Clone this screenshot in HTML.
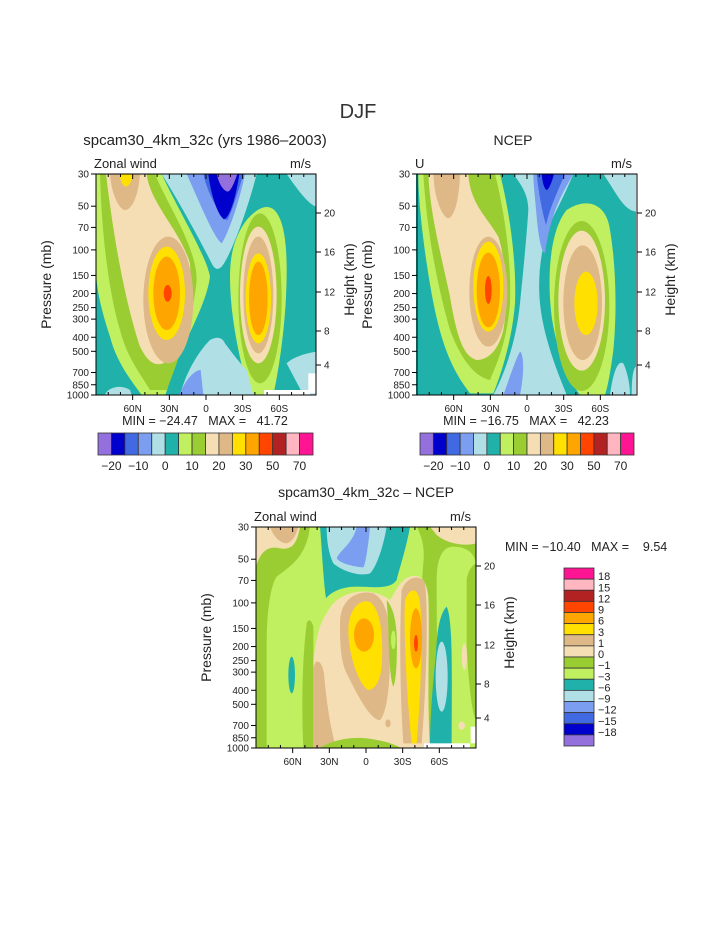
<!DOCTYPE html>
<html><head><meta charset="utf-8"><style>
html,body{margin:0;padding:0;background:#fff;}
svg{display:block;font-family:"Liberation Sans",sans-serif;}
</style></head><body>
<svg id="s" width="723" height="935" viewBox="0 0 723 935" xmlns="http://www.w3.org/2000/svg">
<defs>
<clipPath id="c1"><rect x="168" y="132" width="660" height="663"/></clipPath>
<clipPath id="c3"><rect x="168" y="140" width="660" height="663"/></clipPath>
</defs>
<text x="358" y="118" font-size="20" text-anchor="middle" fill="#333">DJF</text>

<!-- Panel 1 -->
<g transform="translate(40,130) scale(0.33333)">
<g clip-path="url(#c1)">
<rect x="168" y="132" width="660" height="663" fill="#20B2AA"/>
<path d="M168,132 L365,132 C420,250 500,380 510,440 C500,520 440,620 400,720 C385,760 380,790 375,795 L305,795 C280,760 230,700 210,620 C190,560 168,480 168,420 Z" fill="#C0F060"/>
<path d="M180,132 L345,132 C380,220 470,350 470,450 C460,560 420,680 380,780 L330,780 C300,730 260,680 240,600 C210,500 185,330 180,132 Z" fill="#9ACD32"/>
<path d="M198,132 L320,132 C330,220 420,300 450,400 C460,520 410,650 370,700 C340,710 320,690 300,650 C270,560 230,400 198,132 Z" fill="#F5DEB3"/>
<path d="M210,132 C215,200 240,240 255,240 C275,240 295,200 300,132 Z" fill="#DEB887"/>
<path d="M237,132 C243,160 252,170 260,170 C270,165 275,150 280,132 Z" fill="#FFE000"/>
<ellipse cx="385" cy="510" rx="75" ry="190" fill="#DEB887"/>
<ellipse cx="380" cy="490" rx="55" ry="140" fill="#FFE000"/>
<ellipse cx="380" cy="490" rx="40" ry="110" fill="#FFA500"/>
<ellipse cx="383" cy="490" rx="12" ry="25" fill="#FF4500"/>
<path d="M620,270 C690,190 740,230 740,420 C740,560 720,700 700,795 L630,795 C600,700 570,560 570,440 C570,360 590,310 620,270 Z" fill="#C0F060"/>
<ellipse cx="660" cy="505" rx="65" ry="255" fill="#9ACD32"/>
<ellipse cx="655" cy="495" rx="55" ry="205" fill="#F5DEB3"/>
<ellipse cx="655" cy="495" rx="45" ry="175" fill="#DEB887"/>
<ellipse cx="655" cy="505" rx="38" ry="135" fill="#FFE000"/>
<ellipse cx="655" cy="505" rx="28" ry="110" fill="#FFA500"/>
<path d="M365,132 L650,132 C620,250 570,380 545,410 C535,420 525,420 515,400 C480,330 420,220 365,132 Z" fill="#B0E0E6"/>
<path d="M740,132 L828,132 L828,230 C800,220 760,160 740,132 Z" fill="#B0E0E6"/>
<path d="M440,132 L615,132 C595,230 560,320 545,340 C520,320 480,220 440,132 Z" fill="#7B9EF0"/>
<path d="M490,132 L610,132 C590,200 570,260 560,272 C540,250 505,200 490,132 Z" fill="#4169E1"/>
<path d="M505,132 L598,132 C588,200 570,262 552,268 C532,255 512,190 505,132 Z" fill="#0000CD"/>
<path d="M530,132 L592,132 C582,160 572,185 562,185 C547,180 537,160 530,132 Z" fill="#9370DB"/>
<path d="M420,795 C440,720 480,660 510,630 C530,620 545,620 555,640 C570,660 600,700 620,720 L640,795 Z" fill="#B0E0E6"/>
<path d="M418,795 C430,760 460,720 482,720 L490,795 Z" fill="#7B9EF0"/>
<path d="M740,700 C760,680 800,670 828,665 L828,795 L790,795 Z" fill="#B0E0E6"/>
<path d="M195,795 C200,775 240,760 270,780 L275,795 Z" fill="#B0E0E6"/>
<rect x="672" y="780" width="138" height="15" fill="#fff"/>
<rect x="805" y="730" width="23" height="60" fill="#fff"/>
</g></g>

<!-- Panel 2 -->
<g transform="translate(360,130) scale(0.33333)">
<g clip-path="url(#c1)">
<rect x="168" y="132" width="660" height="663" fill="#20B2AA"/>
<path d="M175,132 L420,132 C450,250 470,400 465,520 C455,640 420,740 400,790 L330,790 C260,700 230,600 200,400 C185,300 175,200 175,132 Z" fill="#C0F060"/>
<path d="M190,132 L405,132 C435,250 455,400 450,520 C440,640 410,700 390,750 C340,740 300,680 270,600 C230,460 200,300 190,132 Z" fill="#9ACD32"/>
<path d="M205,132 L325,132 C330,220 380,260 415,320 C440,400 445,520 430,600 C410,680 370,690 350,690 C310,680 290,620 270,500 C240,360 210,250 205,132 Z" fill="#F5DEB3"/>
<path d="M220,132 C225,230 255,265 265,265 C285,260 298,200 300,132 Z" fill="#DEB887"/>
<ellipse cx="385" cy="485" rx="57" ry="165" fill="#DEB887"/>
<ellipse cx="385" cy="470" rx="45" ry="135" fill="#FFE000"/>
<ellipse cx="385" cy="480" rx="35" ry="112" fill="#FFA500"/>
<ellipse cx="385" cy="480" rx="10" ry="42" fill="#FF4500"/>
<path d="M460,132 L640,132 C620,180 600,220 580,260 C550,320 530,420 540,520 C550,620 590,720 620,795 L400,795 C440,720 470,620 480,520 C490,420 500,320 505,240 C505,190 480,160 460,132 Z" fill="#B0E0E6"/>
<path d="M730,132 L828,132 L828,245 C790,240 770,190 730,132 Z" fill="#B0E0E6"/>
<path d="M520,132 L640,132 C600,200 570,260 555,370 C545,370 535,320 530,260 C525,200 520,160 520,132 Z" fill="#7B9EF0"/>
<path d="M530,132 L615,132 C595,180 570,230 558,285 C545,240 535,180 530,132 Z" fill="#4169E1"/>
<path d="M545,132 L582,132 C575,160 565,180 560,180 C552,175 548,160 545,132 Z" fill="#0000CD"/>
<path d="M430,795 C450,740 470,680 480,665 C490,670 495,720 480,795 Z" fill="#7B9EF0"/>
<path d="M620,240 C680,200 740,220 750,300 C770,420 770,560 760,660 C750,740 740,780 735,795 L660,795 C620,740 590,660 575,560 C560,440 570,300 620,240 Z" fill="#C0F060"/>
<ellipse cx="665" cy="528" rx="83" ry="255" fill="#9ACD32"/>
<ellipse cx="665" cy="512" rx="70" ry="210" fill="#F5DEB3"/>
<ellipse cx="668" cy="518" rx="58" ry="172" fill="#DEB887"/>
<ellipse cx="678" cy="520" rx="35" ry="95" fill="#FFE000"/>
<path d="M750,795 C760,720 775,690 790,700 C800,720 810,760 810,795 Z" fill="#B0E0E6"/>
<path d="M815,795 C815,740 820,715 828,710 L828,795 Z" fill="#B0E0E6"/>
</g></g>

<!-- Panel 3 -->
<g transform="translate(200,480) scale(0.33333)">
<g clip-path="url(#c3)">
<rect x="168" y="140" width="660" height="663" fill="#C0F060"/>
<path d="M168,140 L330,140 C320,230 270,260 230,290 C210,320 200,400 200,500 L200,803 L168,803 Z" fill="#9ACD32"/>
<path d="M168,140 L300,140 C290,200 270,210 240,205 C200,195 180,220 168,260 Z" fill="#F5DEB3"/>
<path d="M210,140 C220,170 240,190 260,190 C280,185 290,160 295,140 Z" fill="#DEB887"/>
<path d="M360,140 L630,140 C620,200 600,260 590,300 C570,330 520,320 470,320 C420,320 390,340 378,355 C370,300 365,200 360,140 Z" fill="#20B2AA"/>
<path d="M380,140 L560,140 C550,200 530,260 510,280 C480,290 430,275 400,250 C385,220 380,180 380,140 Z" fill="#B0E0E6"/>
<path d="M470,140 L510,140 C505,200 495,260 490,262 C460,260 420,250 410,235 C420,210 460,190 470,140 Z" fill="#7B9EF0"/>
<path d="M650,140 L828,140 L828,803 L670,803 C660,600 660,350 670,250 C675,200 665,170 650,140 Z" fill="#9ACD32"/>
<path d="M330,803 C330,600 340,450 380,400 C400,360 430,340 480,335 C520,332 550,345 570,360 C590,330 600,300 630,290 C660,280 680,300 685,350 C690,450 680,650 690,803 Z" fill="#F5DEB3"/>
<path d="M710,300 C710,230 730,200 760,200 C800,200 828,220 828,260 L828,803 L720,803 C712,650 710,450 710,300 Z" fill="#C0F060"/>
<path d="M800,300 C805,260 828,250 828,250 L828,720 C815,700 805,600 800,500 Z" fill="#9ACD32"/>
<path d="M690,803 C690,700 700,600 708,520 C712,430 725,395 740,380 C760,420 755,600 755,803 Z" fill="#20B2AA"/>
<ellipse cx="725" cy="590" rx="18" ry="105" fill="#B0E0E6"/>
<path d="M690,140 L828,140 L828,190 C790,200 740,190 710,165 Z" fill="#F5DEB3"/>
<ellipse cx="793" cy="530" rx="8" ry="40" fill="#F5DEB3"/>
<ellipse cx="785" cy="737" rx="10" ry="12" fill="#F5DEB3"/>
<path d="M310,803 C305,700 305,550 320,430 C325,415 335,420 340,440 L340,803 Z" fill="#9ACD32"/>
<path d="M340,803 L340,570 C345,530 365,540 372,580 C382,700 400,780 410,803 Z" fill="#DEB887"/>
<path d="M420,430 C420,350 480,330 520,340 C560,360 570,420 570,520 C570,620 560,700 540,720 C510,720 470,640 440,580 C420,540 420,480 420,430 Z" fill="#DEB887"/>
<path d="M445,450 C445,380 490,350 515,370 C545,400 550,480 545,560 C540,610 520,630 505,630 C480,620 445,530 445,450 Z" fill="#FFE000"/>
<ellipse cx="492" cy="465" rx="30" ry="50" fill="#FFA500"/>
<path d="M560,360 C575,380 585,400 590,460 C592,520 590,600 580,620 C570,600 565,500 565,440 Z" fill="#9ACD32"/>
<ellipse cx="580" cy="480" rx="7" ry="28" fill="#C0F060"/>
<path d="M605,330 C620,290 660,280 675,310 C685,400 680,600 665,790 L610,790 C600,650 598,450 605,330 Z" fill="#DEB887"/>
<path d="M615,360 C630,320 655,320 660,370 C668,450 665,600 650,790 L635,790 C620,650 610,450 615,360 Z" fill="#FFE000"/>
<ellipse cx="648" cy="475" rx="18" ry="90" fill="#FFA500"/>
<ellipse cx="648" cy="490" rx="6" ry="25" fill="#FF4500"/>
<path d="M360,803 C400,780 450,770 500,775 C540,780 580,790 600,803 Z" fill="#9ACD32"/>
<ellipse cx="564" cy="730" rx="8" ry="12" fill="#DEB887"/>
<ellipse cx="275" cy="585" rx="10" ry="55" fill="#20B2AA"/>
<rect x="672" y="790" width="138" height="13" fill="#fff"/>
<rect x="812" y="740" width="16" height="50" fill="#fff"/>
</g></g>
<g id="dyn"></g>
</svg>
<script>
var NS="http://www.w3.org/2000/svg",g=document.getElementById("dyn");
function el(t,a,txt){var e=document.createElementNS(NS,t);for(var k in a)e.setAttribute(k,a[k]);if(txt!==undefined)e.textContent=txt;g.appendChild(e);return e;}
function line(x1,y1,x2,y2){el("line",{x1:x1,y1:y1,x2:x2,y2:y2,stroke:"#000","stroke-width":1});}
function txt(x,y,s,size,anchor,extra){var a={x:x,y:y,"font-size":size,"text-anchor":anchor||"middle",fill:"#222"};for(var k in extra)a[k]=extra[k];var e=el("text",a,s);e.style.whiteSpace="pre";return e;}
var cols=["#9370DB","#0000CD","#4169E1","#7B9EF0","#B0E0E6","#20B2AA","#C0F060","#9ACD32","#F5DEB3","#DEB887","#FFE000","#FFA500","#FF4500","#B22222","#FFB6C1","#FF1493"];
function axes(x0,y0,left,unit){
 var w=220,h=221,L=Math.log(1000/30);
 el("rect",{x:x0,y:y0,width:w,height:h,fill:"none",stroke:"#000","stroke-width":1});
 [30,50,70,100,150,200,250,300,400,500,700,850,1000].forEach(function(p){var y=y0+h*Math.log(p/30)/L;line(x0-5,y,x0,y);txt(x0-7,y+3.5,String(p),10,"end");});
 var lab={60:"60N",30:"30N",0:"0","-30":"30S","-60":"60S"};
 for(var lat=80;lat>=-80;lat-=10){var x=x0+(90-lat)*w/180;
  if(lab[lat]!==undefined){line(x,y0+h,x,y0+h+5);line(x,y0,x,y0+5);txt(x,y0+h+17,lab[lat],10);}
  else{line(x,y0+h,x,y0+h-3);line(x,y0,x,y0+3);}}
 [[20,39],[16,78],[12,118],[8,157],[4,191]].forEach(function(a){var y=y0+a[1];line(x0+w,y,x0+w+5,y);txt(x0+w+8,y+3.5,String(a[0]),10,"start");});
 txt(x0-45,y0+h/2,"Pressure (mb)",14,"middle",{transform:"rotate(-90 "+(x0-45)+" "+(y0+h/2)+")"});
 txt(x0+w+38,y0+h/2-5,"Height (km)",14,"middle",{transform:"rotate(-90 "+(x0+w+38)+" "+(y0+h/2-5)+")"});
 txt(x0-2,y0-6,left,13,"start");txt(x0+w-26,y0-6,unit,13,"start");
}
axes(96,174,"Zonal wind","m/s");
axes(417,174,"U","m/s");
axes(256,527,"Zonal wind","m/s");
txt(205,145,"spcam30_4km_32c (yrs 1986\u20132003)",15);
txt(513,145,"NCEP",14);
txt(366,497,"spcam30_4km_32c \u2013 NCEP",14);
txt(205,425,"MIN = \u221224.47   MAX =   41.72",12.5);
txt(526,425,"MIN = \u221216.75   MAX =   42.23",12.5);
txt(505,551,"MIN = \u221210.40   MAX =    9.54",12.5,"start");
function hbar(x0,x1,y){var bw=(x1-x0)/16;var labs=["\u221220","\u221210","0","10","20","30","50","70"];
 for(var i=0;i<16;i++)el("rect",{x:x0+i*bw,y:y,width:bw,height:22,fill:cols[i],stroke:"#333","stroke-width":0.8});
 for(var j=0;j<8;j++)txt(x0+(2*j+1)*bw,y+37,labs[j],12);}
hbar(98,313,433);hbar(420,634,433);
var vl=["18","15","12","9","6","3","1","0","\u22121","\u22123","\u22126","\u22129","\u221212","\u221215","\u221218"];
var bh=178/16;
for(var i=0;i<16;i++)el("rect",{x:564,y:568+i*bh,width:30,height:bh,fill:cols[15-i],stroke:"#333","stroke-width":0.8});
for(var j=0;j<15;j++)txt(598,568+(j+1)*bh+1,vl[j],11,"start");
</script>
</body></html>
